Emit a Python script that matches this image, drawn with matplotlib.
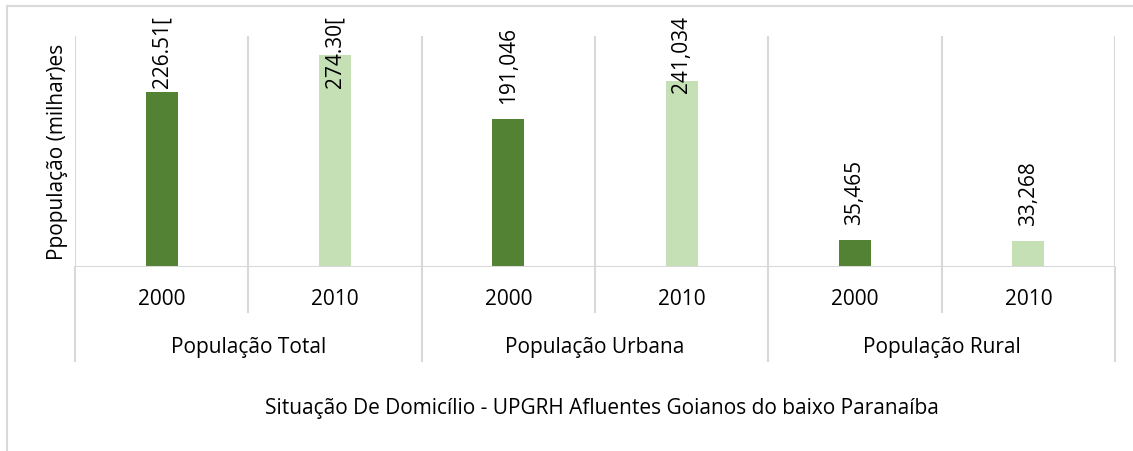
import matplotlib
matplotlib.use("Agg")
import matplotlib.pyplot as plt
from matplotlib.lines import Line2D

groups = ["População Total", "População Urbana", "População Rural"]
years = ["2000", "2010"]
values_2000 = [226.51, 191.046, 35.465]
values_2010 = [274.30, 241.034, 33.268]
labels_2000 = ["226.51[", "191,046", "35,465"]
labels_2010 = ["274.30[", "241,034", "33,268"]

DARK = "#548235"
LIGHT = "#C5E0B4"
GRID = "#D9D9D9"
W, H = 1133, 452

plt.rcParams['font.family'] = ['Open Sans', 'DejaVu Sans']
FS = 15

fig = plt.figure(figsize=(W / 100, H / 100), dpi=100)
ax = fig.add_axes([75 / W, (H - 268) / H, (1115 - 75) / W, (268 - 37) / H])

# chart border (top and left visible)
fig.add_artist(Line2D([7 / W, 1], [1 - 7 / H, 1 - 7 / H], color=GRID, lw=1.5))
fig.add_artist(Line2D([7 / W, 7 / W], [0, 1 - 7 / H], color=GRID, lw=1.5))

n = len(groups) * len(years)
xs, vals, cols, labs, yrs = [], [], [], [], []
for i in range(len(groups)):
    for j, (v, l) in enumerate([(values_2000[i], labels_2000[i]), (values_2010[i], labels_2010[i])]):
        xs.append(2 * i + j + 0.5)
        vals.append(v)
        cols.append(DARK if j == 0 else LIGHT)
        labs.append(l)
        yrs.append(years[j])

ax.set_xlim(0, n)
ax.set_ylim(0, 299)
for s in ax.spines.values():
    s.set_visible(False)
ax.set_xticks([])
ax.set_yticks([])

# vertical gridlines and baseline
for k in range(n + 1):
    ax.axvline(k, color=GRID, lw=1.5, zorder=0)
ax.axhline(0, color=GRID, lw=1.5, zorder=3)

ax.bar(xs, vals, width=0.185, color=cols, zorder=2)

trans = ax.get_xaxis_transform()
# separators below axis
for k in range(n + 1):
    bottom = -0.407 if k % 2 == 0 else -0.195
    ax.plot([k, k], [0, bottom], transform=trans, color=GRID, lw=1.5, clip_on=False)

for x, y in zip(xs, yrs):
    ax.text(x, -0.1385, y, transform=trans, ha='center', va='center', fontsize=FS)
for i, g in enumerate(groups):
    ax.text(2 * i + 1, -0.342, g, transform=trans, ha='center', va='center', fontsize=FS)

fig.text(602 / W, 1 - 409 / H, "Situação De Domicílio - UPGRH Afluentes Goianos do baixo Paranaíba",
         ha='center', va='center', fontsize=FS)
fig.text(57 / W, 1 - 152 / H, "Ppopulação (milhar)es", rotation=90,
         ha='center', va='center', fontsize=FS)

texts = []
for x, v, l in zip(xs, vals, labs):
    t = ax.annotate(l, (x, v), xytext=(0, 11.5), textcoords='offset points',
                    rotation=90, ha='center', va='bottom', fontsize=FS)
    texts.append(t)

fig.canvas.draw()
r = fig.canvas.get_renderer()
for t, x in zip(texts, xs):
    bb = t.get_window_extent(r)
    if bb.y1 > H - 16:
        t.remove()
        xf = ax.transData.transform((x, 0))[0] / W
        fig.text(xf, 1 - 16 / H, t.get_text(), rotation=90, ha='center', va='top', fontsize=FS)

fig.savefig("out.png", dpi=100)
